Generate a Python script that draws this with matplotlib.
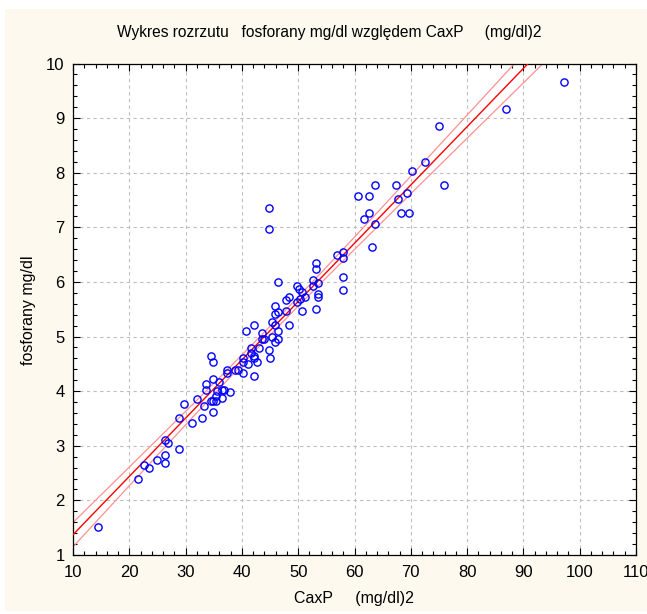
import numpy as np
import matplotlib
matplotlib.use("Agg")
import matplotlib.pyplot as plt
from matplotlib.ticker import MultipleLocator
from matplotlib.patches import Rectangle

caxp = [14.5, 21.6, 22.6, 23.5, 24.9, 26.3, 26.3, 26.3, 26.8, 28.8, 28.8, 29.7, 31.1, 32.1,
        33.0, 33.3, 33.6, 33.6, 34.9, 34.5, 34.9, 34.5, 34.9, 35.4, 34.9, 35.4, 35.5, 35.9,
        36.4, 36.4, 36.9, 37.3, 37.3, 37.8, 38.8, 39.3, 40.2, 40.2, 40.7, 41.1, 41.6, 42.1,
        42.1, 41.6, 42.6, 42.1, 43.0, 43.5, 44.0, 43.5, 42.1, 44.9, 45.0, 45.4, 45.4, 45.9,
        45.9, 46.4, 46.4, 45.9, 45.9, 46.4, 46.4, 47.8, 47.8, 48.3, 48.3, 49.7, 50.2, 49.7,
        50.3, 50.7, 50.7, 51.2, 52.6, 52.6, 53.1, 53.1, 53.6, 53.6, 53.6, 53.1, 44.8, 44.8,
        56.9, 57.9, 57.9, 57.9, 57.9, 60.7, 62.6, 62.6, 61.7, 63.6, 63.6, 63.1, 67.4, 67.8,
        69.3, 68.3, 69.7, 70.2, 72.6, 75.0, 75.9, 86.9, 97.3, 40.2]
fosforany = [1.51, 2.39, 2.64, 2.59, 2.74, 2.84, 2.69, 3.11, 3.05, 2.95, 3.51, 3.77, 3.41, 3.86,
             3.51, 3.72, 4.02, 4.13, 4.23, 4.64, 4.54, 3.82, 3.82, 3.82, 3.62, 3.91, 4.00, 4.17,
             4.02, 3.87, 4.02, 4.39, 4.33, 3.98, 4.38, 4.39, 4.53, 4.34, 5.10, 4.49, 4.79, 5.21,
             4.28, 4.69, 4.53, 4.64, 4.79, 5.06, 4.95, 4.95, 4.60, 4.75, 4.60, 5.00, 5.27, 4.90,
             5.21, 5.11, 4.96, 5.41, 5.56, 5.45, 5.99, 5.47, 5.67, 5.73, 5.21, 5.93, 5.87, 5.63,
             5.69, 5.81, 5.47, 5.73, 6.04, 5.93, 6.34, 6.24, 5.98, 5.78, 5.73, 5.51, 7.36, 6.97,
             6.49, 6.55, 6.43, 6.09, 5.85, 7.58, 7.58, 7.26, 7.16, 7.06, 7.78, 6.64, 7.78, 7.52,
             7.62, 7.26, 7.26, 8.03, 8.19, 8.86, 7.78, 9.16, 9.67, 4.60]

title = "Wykres rozrzutu   fosforany mg/dl względem CaxP     (mg/dl)2"
xlabel = "CaxP     (mg/dl)2"
ylabel = "fosforany mg/dl"
xticks = [10, 20, 30, 40, 50, 60, 70, 80, 90, 100, 110]
yticks = [1, 2, 3, 4, 5, 6, 7, 8, 9, 10]

plt.rcParams['font.family'] = ['Liberation Sans', 'DejaVu Sans']

x = np.array(caxp)
y = np.array(fosforany)
n = len(x)
b, a = np.polyfit(x, y, 1)
resid = y - (a + b * x)
s = np.sqrt(np.sum(resid ** 2) / (n - 2))
xm = x.mean()
sxx = np.sum((x - xm) ** 2)
xs = np.linspace(10, 110, 400)
yfit = a + b * xs
se = s * np.sqrt(1.0 / n + (xs - xm) ** 2 / sxx)
tval = 1.98
upper = yfit + tval * se
lower = yfit - tval * se

fig = plt.figure(figsize=(6.47, 6.14), dpi=100, facecolor='white')
fig.patches.append(Rectangle((5 / 647, 3 / 614), 1 - 5 / 647, 1 - 12 / 614,
                             transform=fig.transFigure, facecolor='#FDF9EF',
                             edgecolor='none', zorder=-10))
ax = fig.add_axes([73 / 647, 1 - 555 / 614, (636 - 73) / 647, (555 - 63.5) / 614])
ax.set_facecolor('white')

ax.plot(xs, upper, color='#FF9090', lw=0.9, zorder=2)
ax.plot(xs, lower, color='#FF9090', lw=0.9, zorder=2)
ax.plot(xs, yfit, color='#FF0000', lw=1.0, zorder=3)
ax.plot(x, y, linestyle='none', marker='o', markersize=5.2, markerfacecolor='none',
        markeredgecolor='#0000FF', markeredgewidth=1.0, zorder=4)

ax.set_xlim(10, 110)
ax.set_ylim(1, 10)
ax.set_xticks(xticks)
ax.set_yticks(yticks)
ax.xaxis.set_minor_locator(MultipleLocator(2))
ax.yaxis.set_minor_locator(MultipleLocator(0.2))
ax.tick_params(which='both', direction='in', top=True, right=True, colors='black',
               labelsize=12, width=0.8)
ax.tick_params(which='major', length=5)
ax.tick_params(axis='x', which='major', pad=7)
ax.tick_params(axis='y', which='major', pad=6)
ax.tick_params(which='minor', length=3)
ax.grid(True, which='major', color='#BEBEBE', linestyle=(0, (3, 3)), linewidth=0.8)
ax.set_axisbelow(True)
for sp in ax.spines.values():
    sp.set_color('black')
    sp.set_linewidth(0.9)

fig.text(329 / 647, 1 - 32 / 614, title, ha='center', va='center', fontsize=11.2)
fig.text(354 / 647, 1 - 599 / 614, xlabel, ha='center', va='center', fontsize=11.5)
fig.text(29 / 647, 1 - 310 / 614, ylabel, ha='center', va='center', rotation=90, fontsize=11.5)

fig.savefig('out.png', dpi=100, facecolor=fig.get_facecolor())
